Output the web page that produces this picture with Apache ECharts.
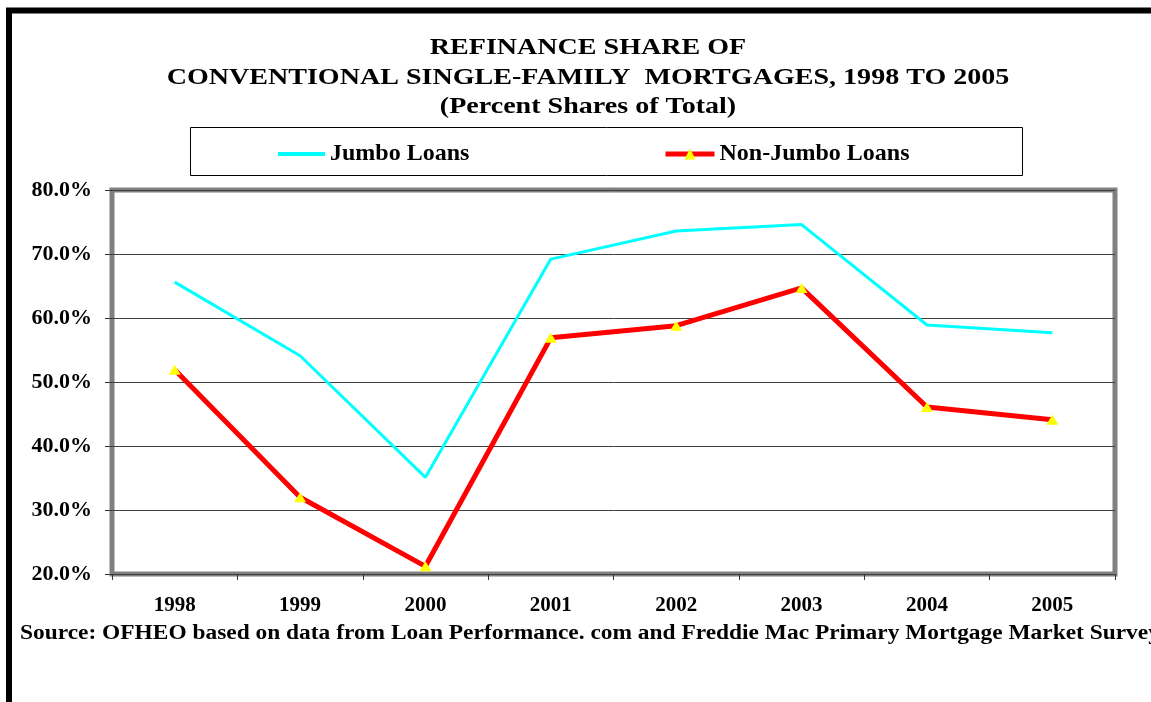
<!DOCTYPE html>
<html>
<head>
<meta charset="utf-8">
<script src="https://cdn.jsdelivr.net/npm/echarts@6/dist/echarts.min.js"></script>
<style>
  html, body { margin: 0; padding: 0; background: #fff; }
  #chart { width: 1151px; height: 702px; }
</style>
</head>
<body>
<div id="chart"></div>
<script>
var years = ["1998", "1999", "2000", "2001", "2002", "2003", "2004", "2005"];
var jumbo = [65.6, 54.1, 35.1, 69.2, 73.6, 74.6, 58.9, 57.7];
var nonJumbo = [51.9, 32.0, 21.2, 56.9, 58.8, 64.7, 46.1, 44.1];
var yTicks = [20, 30, 40, 50, 60, 70, 80];
var titleLines = [
  "REFINANCE SHARE OF",
  "CONVENTIONAL SINGLE-FAMILY  MORTGAGES, 1998 TO 2005",
  "(Percent Shares of Total)"
];
var sourceNote = "Source: OFHEO based on data from Loan Performance. com and Freddie Mac Primary Mortgage Market Survey";

var serif = "'Liberation Serif', 'Times New Roman', serif";
var legendText = { fontFamily: serif, fontWeight: "bold", fontSize: 24, color: "#000" };

var chart = echarts.init(document.getElementById("chart"));

// title lines are drawn as text elements so they can be widened like the original
var titleGraphics = titleLines.map(function (line, i) {
  return {
    type: "text",
    x: 588,
    y: 48.5 + i * 29.5,
    scaleX: 1.22,
    silent: true,
    style: {
      text: line,
      font: "bold 23px " + serif,
      fill: "#000",
      align: "center",
      verticalAlign: "middle"
    }
  };
});

chart.setOption({
  backgroundColor: "#fff",
  animation: false,
  legend: [
    {
      data: ["Jumbo Loans"],
      left: 278,
      top: 142,
      padding: 0,
      icon: "rect",
      itemWidth: 47,
      itemHeight: 4,
      textStyle: legendText
    },
    {
      data: ["Non-Jumbo Loans"],
      left: 663,
      top: 142,
      padding: 0,
      itemWidth: 49,
      itemHeight: 14,
      lineStyle: { width: 5, color: "#ff0000" },
      textStyle: legendText
    }
  ],
  grid: {
    left: 112,
    right: 36,
    top: 190,
    bottom: 128,
    show: true,
    borderColor: "#808080",
    borderWidth: 5,
    backgroundColor: "#fff"
  },
  xAxis: {
    type: "category",
    data: years,
    boundaryGap: true,
    axisLine: { show: false },
    axisTick: { show: true, length: 6, lineStyle: { color: "#333" } },
    axisLabel: {
      margin: 21,
      fontFamily: serif,
      fontWeight: "bold",
      fontSize: 21,
      color: "#000"
    }
  },
  yAxis: {
    type: "value",
    min: yTicks[0],
    max: yTicks[yTicks.length - 1],
    interval: 10,
    axisLine: { show: false },
    axisTick: { show: true, length: 7, lineStyle: { color: "#333" } },
    axisLabel: {
      margin: 20,
      fontFamily: serif,
      fontWeight: "bold",
      fontSize: 22,
      color: "#000",
      formatter: function (v) { return v.toFixed(1) + "%"; }
    },
    splitLine: { show: true, lineStyle: { color: "#404040", width: 1 } }
  },
  series: [
    {
      name: "Jumbo Loans",
      type: "line",
      data: jumbo,
      symbol: "none",
      color: "#00ffff",
      lineStyle: { color: "#00ffff", width: 3 }
    },
    {
      name: "Non-Jumbo Loans",
      type: "line",
      data: nonJumbo,
      symbol: "triangle",
      symbolSize: [12, 10],
      showAllSymbol: true,
      color: "#ff0000",
      itemStyle: { color: "#ffff00", borderWidth: 0 },
      lineStyle: { color: "#ff0000", width: 5 }
    }
  ],
  graphic: titleGraphics.concat([
    {
      type: "rect",
      silent: true,
      z: 100,
      shape: { x: 9, y: 10.5, width: 1400, height: 900 },
      style: { fill: null, stroke: "#000", lineWidth: 6 }
    },
    {
      type: "rect",
      silent: true,
      z: -1,
      shape: { x: 190.5, y: 127.5, width: 832, height: 48 },
      style: { fill: "#fff", stroke: "#000", lineWidth: 1 }
    },
    {
      type: "text",
      x: 20,
      y: 634,
      scaleX: 1.17,
      silent: true,
      style: {
        text: sourceNote,
        font: "bold 20px " + serif,
        fill: "#000",
        verticalAlign: "middle"
      }
    }
  ])
});
</script>
</body>
</html>
